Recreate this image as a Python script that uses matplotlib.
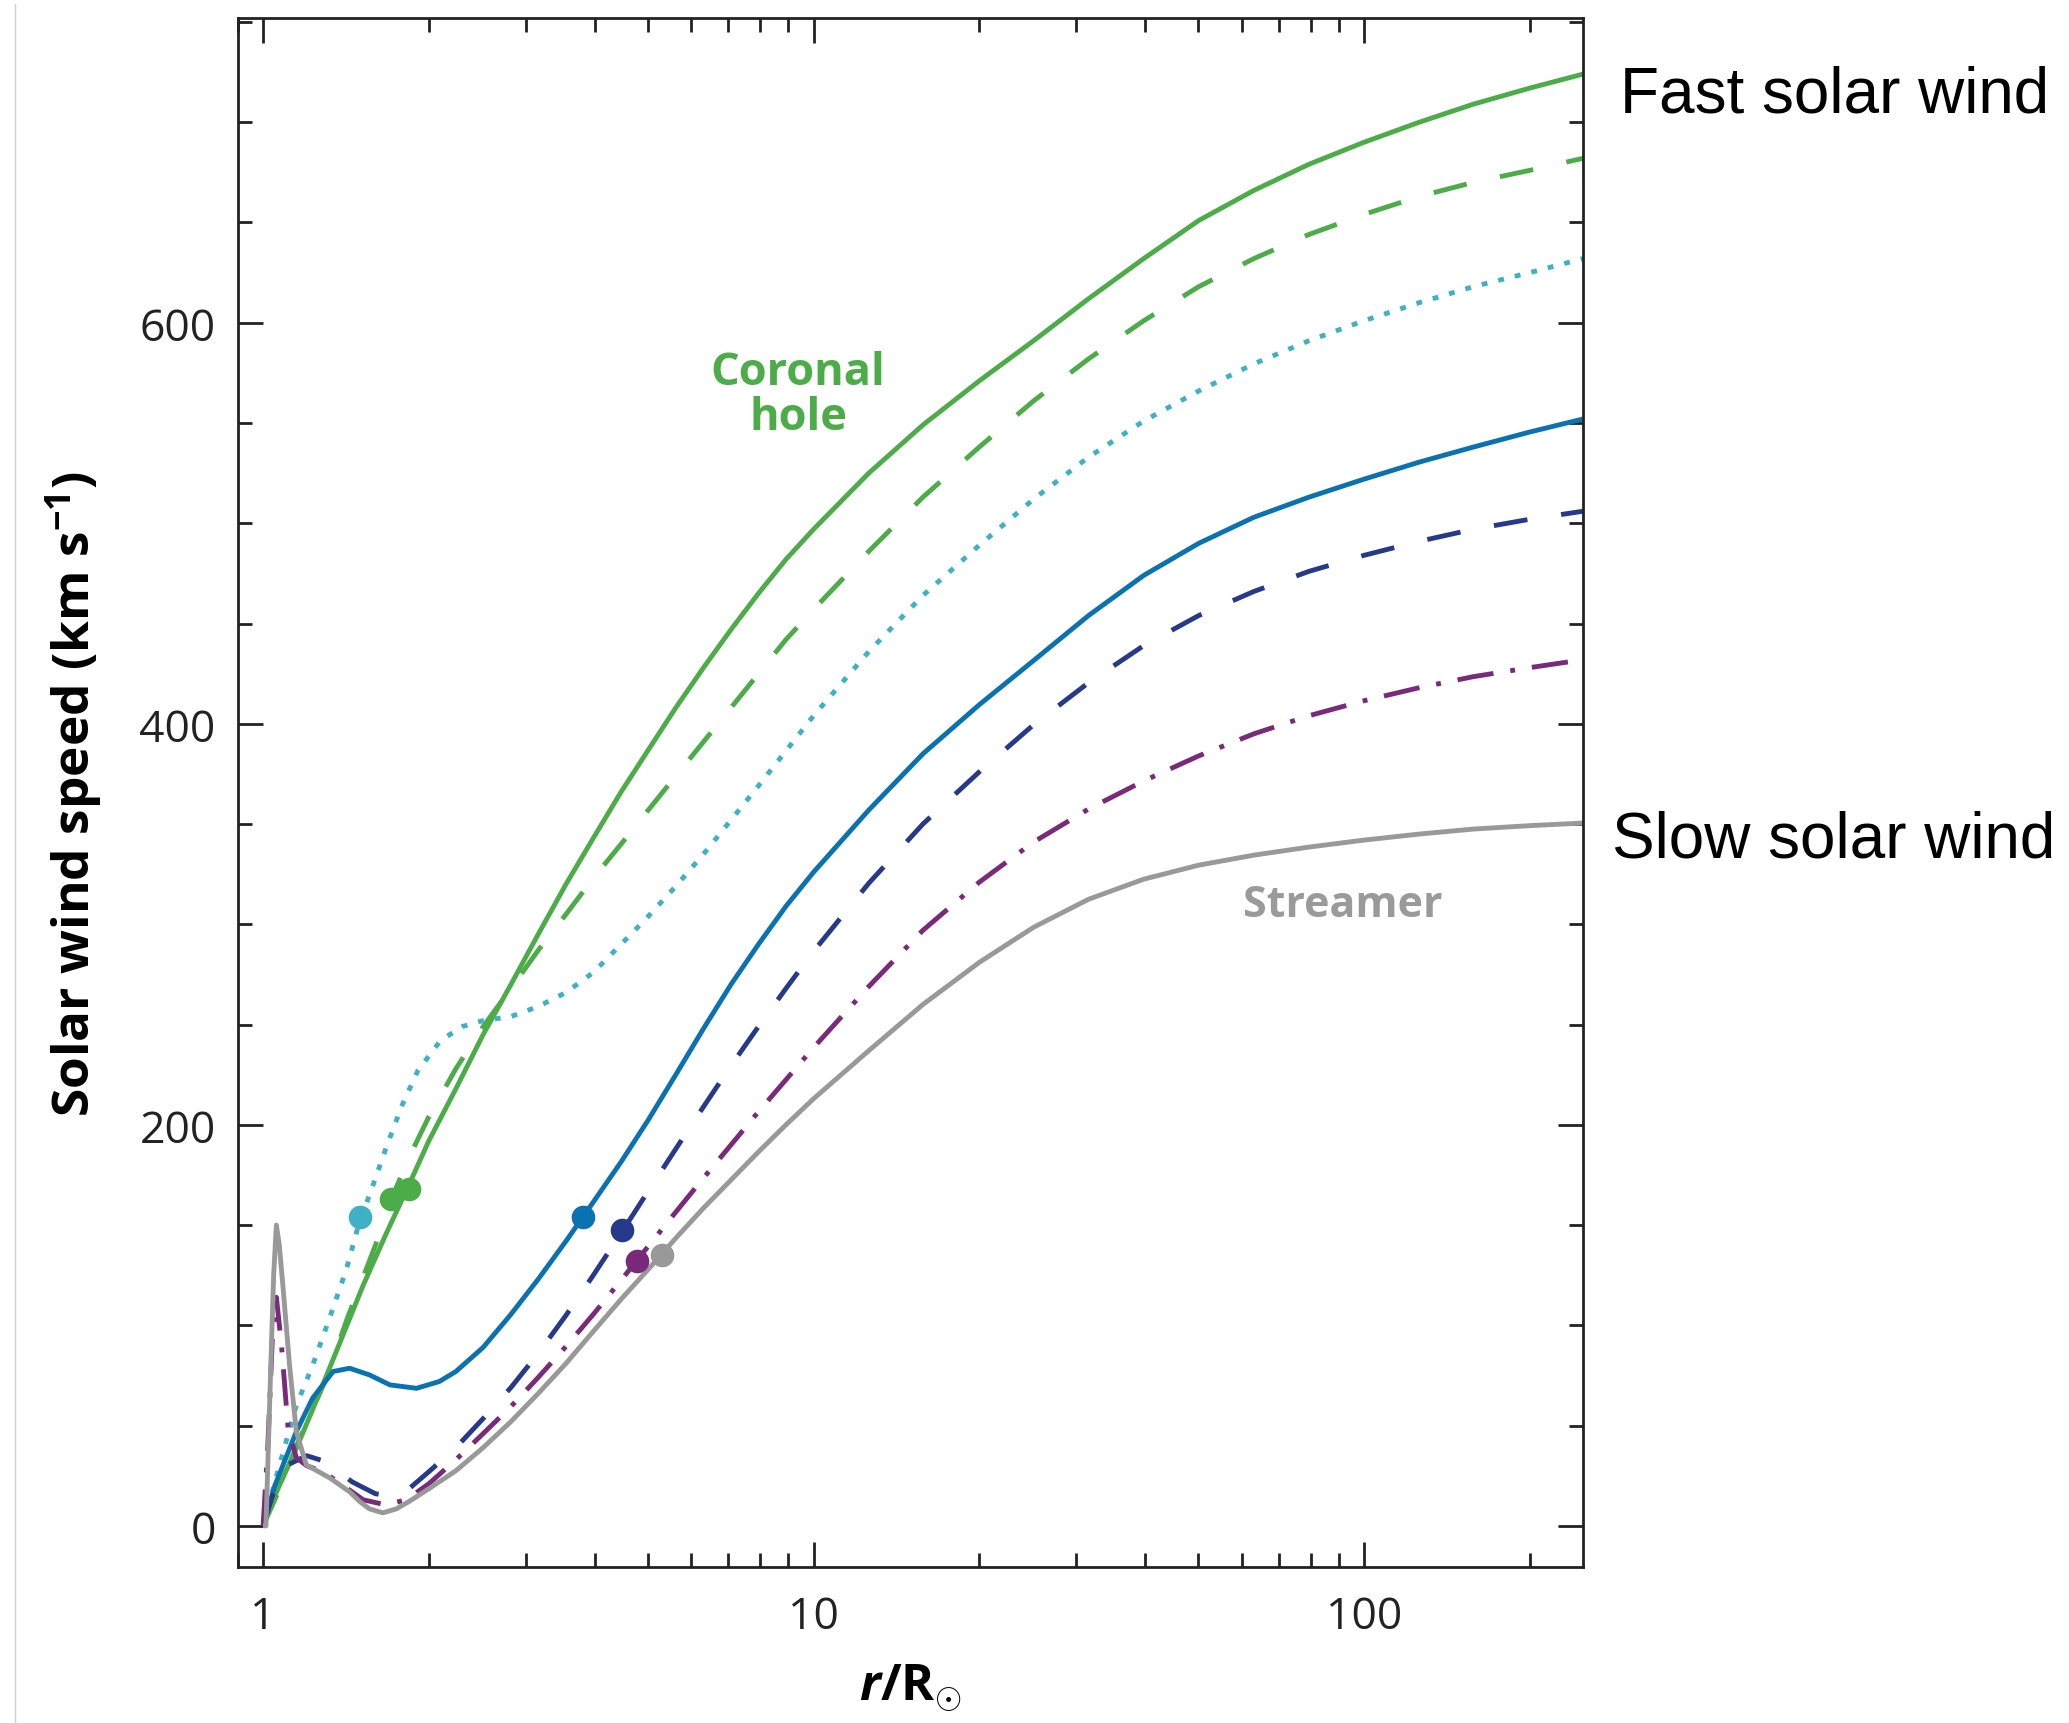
import numpy as np
import matplotlib
matplotlib.use("Agg")
from matplotlib import pyplot as plt
from matplotlib.ticker import LogLocator, MultipleLocator, NullFormatter
from matplotlib.lines import Line2D

####################################################

# Data (r in solar radii, v in km/s)

# radii used for the outer part of every curve
r_outer = [2.0, 2.24, 2.51, 2.82, 3.16, 3.55, 3.98, 4.47, 5.01, 5.62, 6.31, 7.08,
           7.94, 8.91, 10, 12.6, 15.8, 20, 25.1, 31.6, 39.8, 50.1, 63.1, 79.4,
           100, 126, 158, 200, 250]

# coronal hole, solid green
r_green = [1.0, 1.013, 1.07, 1.149, 1.23, 1.32, 1.41, 1.52, 1.675, 1.84] + r_outer
v_green = [0, 5, 20, 38.7, 58, 78.6, 98, 120, 146, 170,
           192, 218, 245, 270, 295, 320, 343, 366, 387, 408,
           428, 447, 465, 482, 497, 525, 549, 571, 591, 612,
           632, 651, 666, 679, 690, 700, 709, 717, 724]

# dashed green
r_green_d = [1.0, 1.07, 1.15, 1.3, 1.42, 1.6, 1.71, 1.85] + r_outer
v_green_d = [0, 18, 40, 73, 103, 140, 163, 185,
             204, 228, 249, 268, 287, 305, 323, 340, 357, 374,
             391, 408, 425, 442, 457, 486, 513, 538, 561, 582,
             601, 618, 632, 644, 654, 663, 670, 676, 682]

# dotted cyan
r_cyan = [1.0, 1.07, 1.149, 1.23, 1.32, 1.417, 1.49, 1.57, 1.68, 1.79, 1.91,
          2.1, 2.3] + r_outer[2:]
v_cyan = [0, 30, 60, 80, 103.5, 128, 150, 167, 190, 210, 227, 242, 249,
          252, 254, 259, 266, 276, 290, 304, 319, 335, 352,
          369, 386.5, 404, 436, 464, 489, 512, 533, 551, 566,
          579.5, 591, 601, 610, 618, 625, 632]

# solid blue
r_blue = [1.0, 1.05, 1.149, 1.23, 1.34, 1.436, 1.56, 1.70, 1.90, 2.09] + r_outer[1:]
v_blue = [0, 20, 47, 63.7, 77, 78.6, 75.3, 70.3, 68.6, 72,
          77, 89, 105.5, 123, 142, 161.5, 181.5, 202.5, 225, 248,
          270, 290, 309, 326, 357, 385, 409.5, 431.5, 454, 474,
          490, 503, 513, 522, 530.5, 538, 545.5, 552]

# dashed navy
r_navy = [1.0, 1.04, 1.1, 1.2, 1.3, 1.45, 1.6, 1.72, 1.85] + r_outer
v_navy = [0, 15, 30, 35, 32, 22, 16, 15, 19,
          27, 39, 53.5, 69, 86, 105, 125, 146, 167, 188,
          209, 229.5, 249, 268, 286.5, 320.5, 350, 376, 399.5, 420.5,
          439, 454, 466, 476, 484, 491, 497, 502, 506]

# dash-dot purple (stops a little short of the right edge)
r_purple = [1.0, 1.02, 1.04, 1.057, 1.08, 1.11, 1.149, 1.2, 1.285, 1.4, 1.52,
            1.67, 1.82] + r_outer[:-1] + [237]
v_purple = [0, 40, 95, 114, 90, 48.7, 34, 30, 27, 20, 13, 10.5, 13,
            21, 33, 46, 59.5, 74, 89.5, 105.5, 122.5, 139.5, 156.5,
            173.5, 190, 206.5, 222.5, 238.5, 269, 297, 321, 341, 357.5,
            371.5, 384, 395, 404, 411.5, 418, 423.5, 428, 431]

# streamer, solid grey
r_grey = [1.0, 1.012, 1.03, 1.045, 1.057, 1.07, 1.086, 1.117, 1.149, 1.198, 1.32,
          1.436, 1.5, 1.56, 1.65, 1.747, 1.85] + r_outer
v_grey = [0, 0, 70, 125, 150, 140, 120, 80, 47, 30.4, 24,
          17, 12, 8.5, 6.5, 8.5, 12.5,
          18.5, 27.5, 39, 52, 66, 81, 97, 113, 128, 143.5,
          158.5, 172.5, 186.5, 200, 213, 237, 260, 281, 298.5, 312.5,
          322.5, 329.5, 334.5, 338.5, 342, 345, 347.5, 349.2, 350.5]

# sonic points (filled dots)
sonic_r = [1.84, 1.71, 1.5, 3.82, 4.48, 4.77, 5.3]
sonic_v = [168, 163, 154, 154, 147.5, 132, 135]

x_ticks = [1, 10, 100]
x_tick_labels = ["1", "10", "100"]
y_ticks = [0, 200, 400, 600]
y_tick_labels = ["0", "200", "400", "600"]

####################################################

green = "#4cad48"
cyan = "#3fb1c6"
blue = "#0a72b1"
navy = "#27398b"
purple = "#7a2a7a"
grey = "#999999"

plt.rcParams["font.family"] = ["Open Sans", "DejaVu Sans"]
plt.rcParams["mathtext.fontset"] = "custom"
plt.rcParams["mathtext.rm"] = "Open Sans:bold"
plt.rcParams["mathtext.bf"] = "Open Sans:bold"
plt.rcParams["mathtext.it"] = "Open Sans:italic:bold"

fig = plt.figure(figsize=(20.69, 17.24), dpi=100)
ax = fig.add_axes([0.1150, 0.0905, 0.6501, 0.8985])

lw = 3.5
series = [
    (r_green, v_green, green, "-", None),
    (r_green_d, v_green_d, green, "--", (7, 7)),
    (r_cyan, v_cyan, cyan, ":", (1.2, 2.3)),
    (r_blue, v_blue, blue, "-", None),
    (r_navy, v_navy, navy, "--", (7, 7)),
    (r_purple, v_purple, purple, "-.", (7.5, 3.5, 1, 3.5)),
    (r_grey, v_grey, grey, "-", None),
]
for r, v, c, ls, dashes in series:
    line, = ax.plot(r, v, color=c, lw=lw, linestyle=ls, solid_capstyle="butt",
                    solid_joinstyle="round")
    if dashes is not None:
        line.set_dashes(dashes)
        line.set_dash_capstyle("butt")

dot_colors = [green, green, cyan, blue, navy, purple, grey]
for r, v, c in zip(sonic_r, sonic_v, dot_colors):
    ax.plot(r, v, "o", color=c, markersize=17, markeredgewidth=0, zorder=5)

ax.set_xscale("log")
ax.set_xlim(0.9, 250)
ax.set_ylim(-20.5, 752)

ax.set_xticks(x_ticks)
ax.set_xticklabels(x_tick_labels)
ax.xaxis.set_minor_locator(LogLocator(base=10, subs=np.arange(2, 10)))
ax.xaxis.set_minor_formatter(NullFormatter())
ax.set_yticks(y_ticks)
ax.set_yticklabels(y_tick_labels)
ax.yaxis.set_minor_locator(MultipleLocator(50))

ax.tick_params(which="both", direction="in", top=True, right=True, width=2,
               colors="#222222", labelsize=32)
ax.tick_params(which="major", length=18)
ax.tick_params(which="minor", length=10)
ax.tick_params(axis="y", pad=16)
ax.tick_params(axis="x", pad=20)
for s in ax.spines.values():
    s.set_linewidth(2)
    s.set_color("#222222")

ax.set_ylabel(r"Solar wind speed (km s$^{-1}$)", fontsize=37, fontweight="bold")
ax.yaxis.set_label_coords(-0.099, 0.5)
ax.set_xlabel(r"$r$/R$_{\odot}$", fontsize=36, fontweight="bold")
ax.xaxis.set_label_coords(0.5, -0.061)
ax.xaxis.label.set_va("top")

ax.text(0.4164, 0.7566, "Coronal\nhole", transform=ax.transAxes, color=green,
        fontsize=32.5, fontweight="bold", ha="center", va="center", linespacing=1.0)
ax.text(0.8216, 0.4274, "Streamer", transform=ax.transAxes, color="#9a9a9a",
        fontsize=31, fontweight="bold", ha="center", va="center")

fig.text(0.783, 0.9345, "Fast solar wind", fontsize=46, family="Liberation Sans",
         ha="left", va="baseline")
fig.text(0.779, 1 - 858 / 1724, "Slow solar wind", fontsize=46, family="Liberation Sans",
         ha="left", va="baseline")

# faint border line at far left of the original image
fig.add_artist(Line2D([15 / 2069, 15 / 2069], [0, 0.997], color="#d0d0d0", lw=1))

fig.savefig("out.png", dpi=100)
